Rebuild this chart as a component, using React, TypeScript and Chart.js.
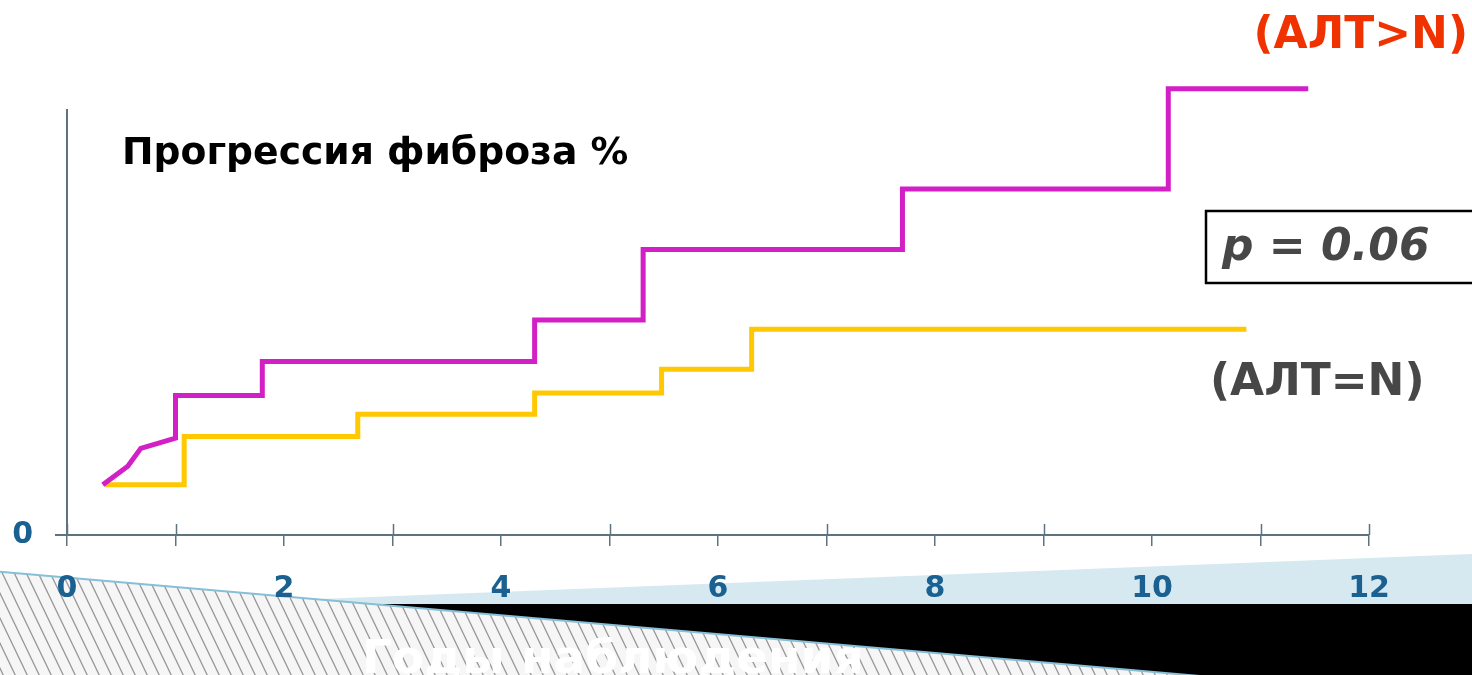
import React, { useEffect, useRef } from "react";
import { Chart, registerables } from "chart.js";

Chart.register(...registerables);

// Годы наблюдения (x) and fibrosis progression % (y)
const altHighYears = [0.33, 0.56, 0.68, 1.0, 1.0, 1.8, 1.8, 4.31, 4.31, 5.31, 5.31, 7.7, 7.7, 10.15, 10.15, 11.44];
const altHighPct = [5.9, 8.1, 10.2, 11.4, 16.4, 16.4, 20.4, 20.4, 25.3, 25.3, 33.6, 33.6, 40.7, 40.7, 52.5, 52.5];

const altNormYears = [0.35, 1.08, 1.08, 2.68, 2.68, 4.31, 4.31, 5.48, 5.48, 6.31, 6.31, 10.87];
const altNormPct = [5.9, 5.9, 11.6, 11.6, 14.2, 14.2, 16.7, 16.7, 19.5, 19.5, 24.2, 24.2];

const xTickValues = [0, 1, 2, 3, 4, 5, 6, 7, 8, 9, 10, 11, 12];
const xLongTicks = [0, 1, 3, 5, 7, 9, 11, 12];
const yTickValues = [0];

const titleText = "Прогрессия фиброза %";
const highLabel = "(АЛТ>N)";
const normLabel = "(АЛТ=N)";
const pText = "p = 0.06";
const xAxisTitle = "Годы наблюдения";

const AXIS_COLOR = "#5e7380";
const TICK_COLOR = "#1a6090";

const W = 1472;
const H = 675;

const decorPlugin = {
  id: "decor",
  beforeDraw(chart: any) {
    const ctx = chart.ctx as CanvasRenderingContext2D;
    ctx.save();
    ctx.fillStyle = "#ffffff";
    ctx.fillRect(0, 0, W, H);

    // light blue wedge
    ctx.fillStyle = "#d6e9f1";
    ctx.beginPath();
    ctx.moveTo(300, 599.8);
    ctx.lineTo(W, 554);
    ctx.lineTo(W, 605);
    ctx.lineTo(300, 605);
    ctx.closePath();
    ctx.fill();

    // black band
    ctx.fillStyle = "#000000";
    ctx.fillRect(0, 604, W, H - 604);

    // hatched triangle
    ctx.save();
    ctx.beginPath();
    ctx.moveTo(0, 571.7);
    ctx.lineTo(1200, H + 1);
    ctx.lineTo(0, H + 1);
    ctx.closePath();
    ctx.fillStyle = "#f6f6f6";
    ctx.fill();
    ctx.clip();
    ctx.strokeStyle = "#979797";
    ctx.lineWidth = 1.3;
    for (let x0 = -100; x0 < 1250; x0 += 12) {
      ctx.beginPath();
      ctx.moveTo(x0, 560);
      ctx.lineTo(x0 + 0.48 * 120, 680);
      ctx.stroke();
    }
    ctx.restore();

    ctx.strokeStyle = "#86bfd6";
    ctx.lineWidth = 2;
    ctx.beginPath();
    ctx.moveTo(0, 571.7);
    ctx.lineTo(1200, H + 1);
    ctx.stroke();
    ctx.restore();
  },
  afterDraw(chart: any) {
    const ctx = chart.ctx as CanvasRenderingContext2D;
    const xs = chart.scales.x;
    const ys = chart.scales.y;
    const y0 = ys.getPixelForValue(0);
    const xLeft = xs.getPixelForValue(0);
    ctx.save();
    ctx.strokeStyle = AXIS_COLOR;
    ctx.lineWidth = 1.5;
    for (const v of xLongTicks) {
      const px = Math.round(xs.getPixelForValue(v)) + 0.5;
      ctx.beginPath();
      ctx.moveTo(px, y0 - 11);
      ctx.lineTo(px, y0);
      ctx.stroke();
    }
    ctx.lineWidth = 2;
    ctx.beginPath();
    ctx.moveTo(xLeft - 12, y0);
    ctx.lineTo(xLeft, y0);
    ctx.stroke();

    ctx.textBaseline = "alphabetic";
    ctx.textAlign = "left";
    ctx.fillStyle = "#000000";
    ctx.font = 'bold 37.7px "DejaVu Sans"';
    ctx.fillText(titleText, 122, 164);

    ctx.textAlign = "right";
    ctx.fillStyle = "#f03200";
    ctx.font = 'bold 44px "DejaVu Sans"';
    ctx.fillText(highLabel, 1468, 48);

    ctx.textAlign = "left";
    ctx.fillStyle = "#474747";
    ctx.font = 'bold 44px "DejaVu Sans"';
    ctx.fillText(normLabel, 1210, 395);

    ctx.strokeStyle = "#000000";
    ctx.lineWidth = 2.5;
    ctx.strokeRect(1206, 211, 300, 72);
    ctx.fillStyle = "#474747";
    ctx.font = 'italic bold 44px "DejaVu Sans"';
    ctx.fillText(pText, 1222, 260);

    ctx.fillStyle = "#ffffff";
    ctx.font = 'bold 47px "DejaVu Sans"';
    ctx.fillText(xAxisTitle, 362, 673);
    ctx.restore();
  },
};

export default function App() {
  const ref = useRef<HTMLCanvasElement | null>(null);

  useEffect(() => {
    document.body.style.margin = "0";
    const canvas = ref.current;
    if (!canvas) return;
    const chart = new Chart(canvas, {
      type: "line",
      data: {
        datasets: [
          {
            label: highLabel,
            data: altHighYears.map((x, i) => ({ x, y: altHighPct[i] })),
            borderColor: "#d220c6",
            borderWidth: 5,
            pointRadius: 0,
            tension: 0,
            clip: false as any,
          },
          {
            label: normLabel,
            data: altNormYears.map((x, i) => ({ x, y: altNormPct[i] })),
            borderColor: "#ffc800",
            borderWidth: 5,
            pointRadius: 0,
            tension: 0,
            clip: false as any,
          },
        ],
      },
      options: {
        responsive: false,
        animation: false,
        devicePixelRatio: 1,
        layout: { padding: { left: 0, right: 103, top: 110, bottom: 0 } },
        plugins: { legend: { display: false }, tooltip: { enabled: false }, title: { display: false } },
        elements: { line: { borderJoinStyle: "miter", borderCapStyle: "butt" } },
        scales: {
          x: {
            type: "linear",
            position: "bottom",
            min: 0,
            max: 12,
            afterFit: (s: any) => {
              s.height = 140;
            },
            afterBuildTicks: (s: any) => {
              s.ticks = xTickValues.map((value) => ({ value }));
            },
            ticks: {
              autoSkip: false,
              maxRotation: 0,
              padding: 25,
              color: TICK_COLOR,
              font: { family: '"DejaVu Sans", sans-serif', size: 30, weight: "bold" },
              callback: (v: any) => (Number(v) % 2 === 0 ? String(v) : ""),
            },
            grid: { drawOnChartArea: false, drawTicks: true, tickLength: 11, color: AXIS_COLOR, lineWidth: 1.5 },
            border: { display: true, color: AXIS_COLOR, width: 2 },
          },
          y: {
            type: "linear",
            position: "left",
            min: 0,
            max: 50,
            afterFit: (s: any) => {
              s.width = 67;
            },
            afterBuildTicks: (s: any) => {
              s.ticks = yTickValues.map((value) => ({ value }));
            },
            ticks: {
              padding: 34,
              color: TICK_COLOR,
              font: { family: '"DejaVu Sans", sans-serif', size: 30, weight: "bold" },
              callback: (v: any) => String(v),
            },
            grid: { display: true, drawOnChartArea: false, drawTicks: false },
            border: { display: true, color: AXIS_COLOR, width: 2 },
          },
        },
      },
      plugins: [decorPlugin],
    });
    return () => chart.destroy();
  }, []);

  return (
    <div style={{ position: "absolute", left: 0, top: 0, width: W, height: H, overflow: "hidden" }}>
      <canvas ref={ref} width={W} height={H} style={{ display: "block", width: W, height: H }} />
    </div>
  );
}
